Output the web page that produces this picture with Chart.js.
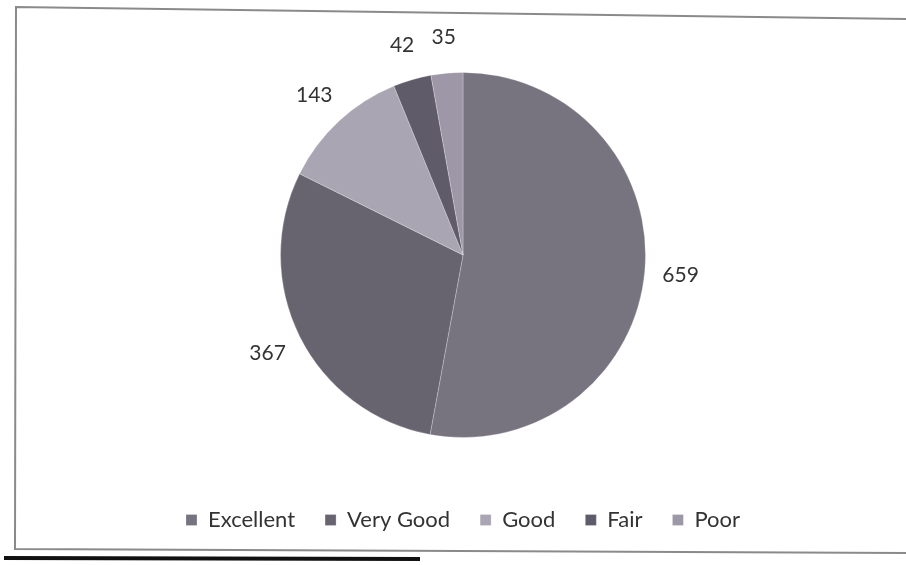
<!DOCTYPE html>
<html>
<head>
<meta charset="utf-8">
<script src="https://cdn.jsdelivr.net/npm/chart.js@4.4.0/dist/chart.umd.min.js"></script>
<style>
  html, body { margin: 0; padding: 0; background: #ffffff; }
  #wrap { position: relative; width: 906px; height: 565px; }
  canvas { display: block; }
</style>
</head>
<body>
<div id="wrap"><canvas id="c" width="906" height="565"></canvas></div>
<script>
const categories = ["Excellent", "Very Good", "Good", "Fair", "Poor"];
const values = [659, 367, 143, 42, 35];
const colors = ["#77737f", "#67636f", "#aaa5b2", "#5f5b68", "#9d97a7"];

const frame = {
  id: 'frame',
  beforeDraw(chart) {
    const ctx = chart.ctx;
    ctx.save();
    ctx.strokeStyle = '#8a8a8a';
    ctx.lineWidth = 2;
    ctx.beginPath();
    ctx.moveTo(906, 19);
    ctx.lineTo(16, 7);
    ctx.lineTo(15, 549);
    ctx.lineTo(906, 553);
    ctx.stroke();
    ctx.strokeStyle = '#111111';
    ctx.lineWidth = 4;
    ctx.beginPath();
    ctx.moveTo(4, 558);
    ctx.lineTo(420, 559);
    ctx.stroke();
    ctx.restore();
  }
};

const outLabels = {
  id: 'outLabels',
  afterDatasetsDraw(chart) {
    const ctx = chart.ctx;
    const meta = chart.getDatasetMeta(0);
    ctx.save();
    ctx.font = '21px Lato, "Liberation Sans", sans-serif';
    ctx.fillStyle = '#333333';
    ctx.textAlign = 'center';
    ctx.textBaseline = 'middle';
    meta.data.forEach((arc, i) => {
      const p = arc.getProps(['x', 'y', 'startAngle', 'endAngle', 'outerRadius'], true);
      const mid = (p.startAngle + p.endAngle) / 2;
      const r = p.outerRadius + 36;
      ctx.fillText(String(values[i]), p.x + Math.cos(mid) * r, p.y + Math.sin(mid) * r);
    });
    ctx.restore();
  }
};

new Chart(document.getElementById('c'), {
  type: 'pie',
  data: {
    labels: categories,
    datasets: [{
      data: values,
      backgroundColor: colors,
      borderColor: 'rgba(255,255,255,0.25)',
      borderWidth: 1
    }]
  },
  options: {
    responsive: false,
    animation: false,
    layout: { padding: { top: 72, left: 20, right: 0, bottom: 24 } },
    plugins: {
      tooltip: { enabled: false },
      legend: {
        position: 'bottom',
        title: {
          display: true,
          text: ' ',
          font: { size: 10, lineHeight: 1 },
          padding: { top: 15, bottom: 16 }
        },
        labels: {
          font: { family: 'Lato, "Liberation Sans", sans-serif', size: 22 },
          color: '#333333',
          boxWidth: 11,
          boxHeight: 11,
          padding: 30
        }
      }
    }
  },
  plugins: [frame, outLabels]
});
</script>
</body>
</html>
